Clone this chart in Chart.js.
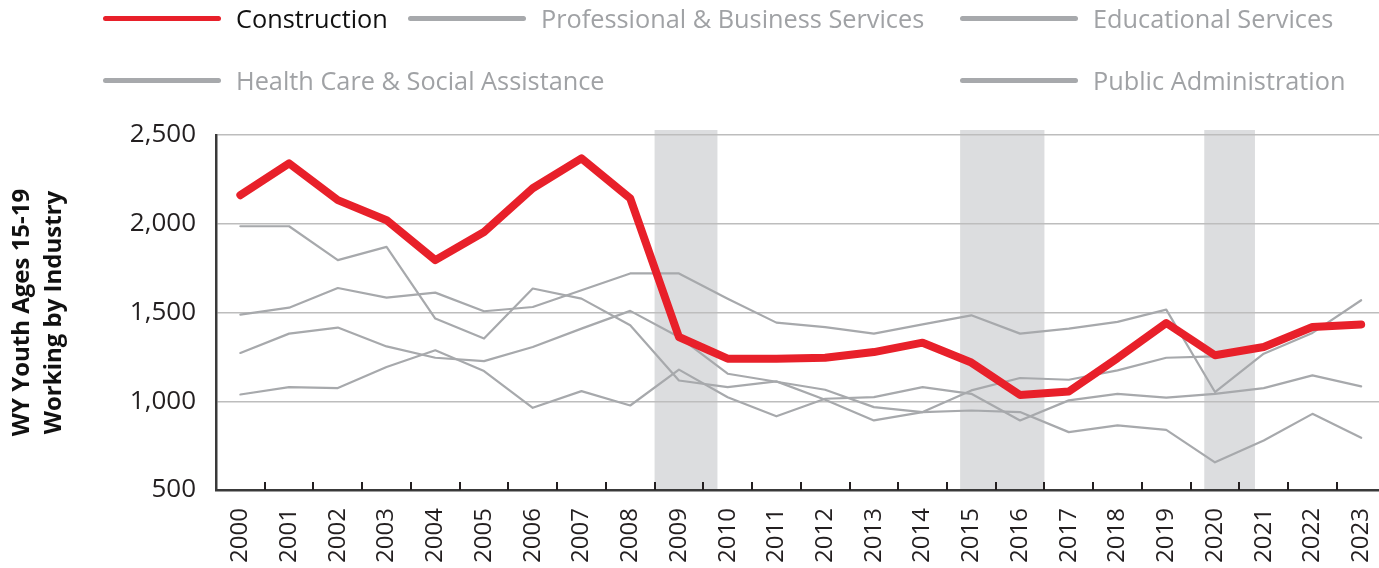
<!DOCTYPE html>
<html><head><meta charset="utf-8">
<script src="https://cdn.jsdelivr.net/npm/chart.js@4"></script>
<style>
html,body{margin:0;padding:0;background:#fff;overflow:hidden;width:1379px;height:568px;}
#wrap{position:absolute;left:0;top:0;width:1408px;height:568px;}
#legend{position:absolute;left:0;top:0;width:1379px;height:110px;font-family:"Open Sans",sans-serif;font-size:25.3px;}
.item{position:absolute;display:flex;align-items:center;white-space:nowrap;transform:translateY(-50%);line-height:34px;}
.swatch{width:118px;height:5px;border-radius:3px;margin-right:15px;}
</style></head><body>
<div id="wrap"><canvas id="c" width="1408" height="568"></canvas></div>
<div id="legend"></div>
<script>
const years = ["2000","2001","2002","2003","2004","2005","2006","2007","2008","2009","2010","2011","2012","2013","2014","2015","2016","2017","2018","2019","2020","2021","2022","2023"];
const construction = [2161,2340,2133,2020,1795,1954,2200,2368,2143,1362,1240,1240,1245,1277,1330,1218,1035,1055,1243,1441,1259,1306,1418,1433];
const professional = [1986,1986,1795,1870,1466,1353,1635,1578,1428,1117,1080,1112,1008,892,939,1061,1131,1121,1174,1245,1253,1300,1405,1428];
const educational = [1038,1080,1074,1193,1287,1170,963,1057,976,1178,1023,915,1014,1023,1080,1042,892,1005,1042,1020,1042,1074,1146,1084];
const healthCare = [1488,1527,1638,1584,1612,1507,1531,1625,1720,1720,1578,1443,1418,1381,1433,1484,1381,1409,1447,1516,1052,1268,1385,1569];
const publicAdmin = [1272,1381,1415,1309,1245,1226,1306,1409,1509,1362,1155,1110,1065,967,939,948,939,826,864,839,656,779,929,794];
const yTicks = [500,1000,1500,2000,2500];
// shaded periods, in category-index units (start, end)
const shadedBands = [[8.5,9.79],[14.77,16.5],[19.78,20.82]];

const RED = '#e8202a', GRAY = '#a7a9ac';
const series = [
  {name:'Construction', data:construction, color:RED, width:8, text:'#111'},
  {name:'Professional & Business Services', data:professional, color:GRAY, width:2.2, text:'#a0a2a5'},
  {name:'Educational Services', data:educational, color:GRAY, width:2.2, text:'#a0a2a5'},
  {name:'Health Care & Social Assistance', data:healthCare, color:GRAY, width:2.2, text:'#a0a2a5'},
  {name:'Public Administration', data:publicAdmin, color:GRAY, width:2.2, text:'#a0a2a5'}
];

// HTML legend
const legendSlots = [[103,18],[408,18],[960,18],[103,80],[960,80]];
const lg = document.getElementById('legend');
series.forEach((s,i)=>{
  const d = document.createElement('div'); d.className='item';
  d.style.left = legendSlots[i][0]+'px'; d.style.top = legendSlots[i][1]+'px';
  const sw = document.createElement('span'); sw.className='swatch'; sw.style.background = s.color;
  const t = document.createElement('span'); t.textContent = s.name; t.style.color = s.text;
  d.appendChild(sw); d.appendChild(t); lg.appendChild(d);
});

const extras = {
  id:'extras',
  beforeDraw(chart){
    const {ctx, chartArea, scales:{x}} = chart;
    ctx.save(); ctx.fillStyle = '#dcdddf';
    shadedBands.forEach(([a,b])=>{
      const x0 = x.getPixelForValue(a), x1 = x.getPixelForValue(b);
      ctx.fillRect(x0, chartArea.top-5, x1-x0, chartArea.bottom-chartArea.top+5);
    });
    ctx.restore();
  },
  afterDraw(chart){
    const {ctx, chartArea, scales:{x}} = chart;
    ctx.save(); ctx.strokeStyle = '#231f20'; ctx.lineWidth = 2;
    for(let i=1;i<years.length;i++){
      const px = Math.round(x.getPixelForValue(i-0.5));
      ctx.beginPath(); ctx.moveTo(px, chartArea.bottom); ctx.lineTo(px, chartArea.bottom-8); ctx.stroke();
    }
    ctx.restore();
  }
};

new Chart(document.getElementById('c'), {
  type:'line',
  data:{
    labels: years,
    datasets: series.map(s=>({
      label:s.name, data:s.data, borderColor:s.color, backgroundColor:s.color,
      borderWidth:s.width, pointRadius:0, tension:0, fill:false,
      borderCapStyle:'round', borderJoinStyle:'round'
    }))
  },
  options:{
    responsive:false, animation:false, devicePixelRatio:1,
    layout:{padding:{top:135,right:1,bottom:0,left:0}},
    plugins:{legend:{display:false}, tooltip:{enabled:false}},
    scales:{
      x:{
        offset:true,
        grid:{display:false, drawTicks:false},
        border:{display:true, color:'#3a3a3a', width:2.5},
        ticks:{minRotation:90, maxRotation:90, autoSkip:false, padding:18, color:'#231f20',
               font:{family:'"Open Sans", sans-serif', size:24}},
        afterFit(s){ s.height = 78; }
      },
      y:{
        min:500, max:2500,
        afterBuildTicks(s){ s.ticks = yTicks.map(v=>({value:v})); },
        grid:{color:'#bdbdbd', lineWidth:1.5, drawTicks:false},
        border:{display:true, color:'#3a3a3a', width:2.5},
        ticks:{padding:20, color:'#231f20', font:{family:'"Open Sans", sans-serif', size:26},
               callback:v=>v.toLocaleString('en-US')},
        title:{display:true, text:['WY Youth Ages 15-19','Working by Industry'], color:'#111',
               padding:{top:7,bottom:0}, font:{family:'"Open Sans", sans-serif', size:24, weight:'bold', lineHeight:1.3}},
        afterFit(s){ s.width = 216; }
      }
    }
  },
  plugins:[extras]
});
</script>
</body></html>
